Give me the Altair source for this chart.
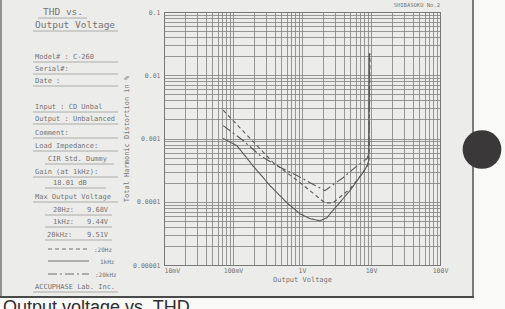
import altair as alt
import pandas as pd

# ---------------- data ----------------
series_names = ["20Hz", "1kHz", "20kHz"]

v_20hz = [0.072, 0.38, 0.94, 2.15, 2.81, 4.97, 7.66, 9.3, 9.68]
thd_20hz = [0.0028, 0.00042, 0.0002, 0.000096, 0.000096, 0.00016, 0.00029, 0.0004, 0.022]

v_1khz = [0.072, 0.114, 0.195, 0.344, 0.607, 0.936, 1.31, 1.82, 2.30, 3.01, 4.97, 7.66, 8.75, 9.3, 9.44]
thd_1khz = [0.001, 0.00077, 0.00037, 0.00018, 0.000096, 0.0000645, 0.000054, 0.00005,
            0.000056, 0.00008, 0.00015, 0.00029, 0.00037, 0.00045, 0.022]

v_20khz = [0.072, 0.14, 0.246, 0.435, 0.847, 1.31, 2.15, 3.93, 6.27, 8.75, 9.4, 9.51]
thd_20khz = [0.0016, 0.00093, 0.00054, 0.00037, 0.00026, 0.0002, 0.00015, 0.00024,
             0.00037, 0.00048, 0.0006, 0.022]

x_decades = [0.01, 0.1, 1, 10, 100]
x_labels = ["10mV", "100mV", "1V", "10V", "100V"]
y_decades = [0.1, 0.01, 0.001, 0.0001, 0.00001]
y_labels = ["0.1", "0.01", "0.001", "0.0001", "0.00001"]

panel_title = ["THD vs.", "Output Voltage"]
panel_fields = ["Model# : C-260", "Serial#:", "Date    :", "Input  : CD Unbal",
                "Output : Unbalanced", "Comment:", "Load Impedance:", "CIR Std. Dummy",
                "Gain (at 1kHz):", "18.01  dB", "Max Output Voltage"]
max_freqs = ["20Hz:", "1kHz:", "20kHz:"]
max_volts = ["9.68V", "9.44V", "9.51V"]
legend_labels = [":20Hz", "1kHz", ":20kHz"]
maker = "ACCUPHASE Lab. Inc."
sheet_id = "SHIBASOKU No.2"
x_title = "Output Voltage"
y_title = "Total Harmonic Distortion in %"
caption = "Output voltage vs. THD"

rows = []
for name, vs, ts in zip(series_names, [v_20hz, v_1khz, v_20khz], [thd_20hz, thd_1khz, thd_20khz]):
    for i, (v, t) in enumerate(zip(vs, ts)):
        rows.append({"series": name, "v": v, "thd": t, "order": i})
df = pd.DataFrame(rows)

# ---------------- layout ----------------
W, H = 276, 253
L, T = 164, 12
MONO = "DejaVu Sans Mono"
INK = "#747474"
CURVE = "#5a5a5a"
DASHES = [[4, 3], [1, 0], [9, 3, 2, 3]]

x_grid = [m * 10.0 ** e for e in range(-2, 2) for m in range(1, 10)] + [100.0]
y_grid = [m * 10.0 ** e for e in range(-5, -1) for m in range(1, 10)] + [0.1]


def label_expr(vals, labs):
    s = "''"
    for v, l in zip(vals, labs):
        s = f"abs(datum.value/{v}-1)<1e-6 ? '{l}' : ({s})"
    return s


def txt(s, x, y, size=7, align="left", color=INK, font=MONO, baseline="middle"):
    return alt.Chart(pd.DataFrame({"t": [s]})).mark_text(
        align=align, baseline=baseline, fontSize=size, font=font, color=color
    ).encode(x=alt.value(x - L), y=alt.value(y - T), text="t:N")


def hline(x1, x2, y, color="#9c9c9c", width=0.8, dash=None):
    kw = {"color": color, "strokeWidth": width}
    if dash is not None:
        kw["strokeDash"] = dash
    return alt.Chart(pd.DataFrame({"a": [0]})).mark_rule(**kw).encode(
        x=alt.value(x1 - L), x2=alt.value(x2 - L), y=alt.value(y - T))


def vline(x, y1, y2, color="#555555", width=1.5):
    return alt.Chart(pd.DataFrame({"a": [0]})).mark_rule(color=color, strokeWidth=width).encode(
        x=alt.value(x - L), y=alt.value(y1 - T), y2=alt.value(y2 - T))


def rect(x1, x2, y1, y2, color):
    return alt.Chart(pd.DataFrame({"a": [0]})).mark_rect(color=color).encode(
        x=alt.value(x1 - L), x2=alt.value(x2 - L), y=alt.value(y1 - T), y2=alt.value(y2 - T))


curves = alt.Chart(df).mark_line(strokeWidth=1.1, color=CURVE, clip=True).encode(
    x=alt.X("v:Q",
            scale=alt.Scale(type="log", domain=[0.01, 100], nice=False),
            axis=alt.Axis(values=x_grid, labelExpr=label_expr(x_decades, x_labels),
                          labelAlign={"condition": {"test": "datum.value < 0.011", "value": "left"},
                                      "value": "center"},
                          labelFlush=False, labelOverlap=False, labelBound=False,
                          labelPadding=2, labelFontSize=6.5, ticks=False, domain=False,
                          title=x_title, titleFontSize=7, titleX=W / 2, titleY=14,
                          titleAlign="center", titleBaseline="middle")),
    y=alt.Y("thd:Q",
            scale=alt.Scale(type="log", domain=[0.00001, 0.1], nice=False),
            axis=alt.Axis(values=y_grid, labelExpr=label_expr(y_decades, y_labels),
                          labelOverlap=False, labelBound=False, labelPadding=4,
                          labelFontSize=6.5, ticks=False, domain=False,
                          title=y_title, titleFontSize=7, titleX=-38, titleY=H / 2,
                          titleAngle=270, titleAlign="center", titleBaseline="middle")),
    strokeDash=alt.StrokeDash("series:N", scale=alt.Scale(domain=series_names, range=DASHES), legend=None),
    detail="series:N",
    order="order:Q",
)

layers = []
# outside-of-card regions and border
layers.append(rect(474, 505, 0, 309, "#f9f9f8"))
layers.append(rect(0, 505, 298, 309, "#f9f9f8"))
layers.append(vline(473, -2, 297.5))
layers.append(vline(1, -2, 297.5, width=1.2))
layers.append(hline(0, 474, 297, color="#4a4a4a", width=2))

# left information panel
layers.append(txt(panel_title[0], 43, 12, size=9.5))
layers.append(hline(38, 87, 18))
layers.append(txt(panel_title[1], 35, 25, size=9.5))
layers.append(hline(33, 118, 31))

field_pos = [(35, 57), (35, 69), (35, 81), (35, 107), (35, 119), (35, 133), (35, 146),
             (48, 159), (35, 172), (53, 183), (35, 197)]
for s, (x, y) in zip(panel_fields, field_pos):
    layers.append(txt(s, x, y))
    if s.startswith("18.01"):
        layers.append(hline(45, 106, y + 5))
    elif s.startswith("CIR"):
        layers.append(hline(45, 114, y + 5))
    else:
        layers.append(hline(33, 118, y + 5))

for f, v, (xf, y) in zip(max_freqs, max_volts, [(53, 210), (53, 222), (47, 235)]):
    layers.append(txt(f, xf, y))
    layers.append(txt(v, 87, y))
    layers.append(hline(45, 112, y + 5))

for lab, dash, (y, xl) in zip(legend_labels, DASHES, [(249, 94), (261, 100), (274, 95)]):
    layers.append(hline(48, 89, y, color="#6e6e6e", width=1, dash=dash))
    layers.append(txt(lab, xl, y + 1, size=6))

layers.append(txt(maker, 35, 287))
layers.append(hline(33, 118, 292))

# plot sheet id
layers.append(txt(sheet_id, 440, 5, size=5.5, align="right"))

# curves
layers.append(curves)

# black dot punched at right
layers.append(alt.Chart(pd.DataFrame({"a": [0]})).mark_circle(size=1500, color="#3a3838", opacity=1).encode(
    x=alt.value(482 - L), y=alt.value(149.5 - T)))

# caption under the card (cut by the bottom edge, as in the reference photo)
layers.append(txt(caption, 3, 313, size=18, color="#2e2e2e", font="Liberation Sans", baseline="alphabetic"))

chart = alt.layer(*layers).properties(
    width=W, height=H,
    padding={"left": L, "top": T, "right": 505 - L - W, "bottom": 309 - T - H},
    autosize=alt.AutoSizeParams(type="none"),
).configure(
    background="#ececea",
).configure_view(
    stroke="#505050", strokeWidth=1,
).configure_axis(
    gridColor="#828282", gridWidth=0.8, gridOpacity=1,
    labelFont=MONO, labelColor=INK, titleFont=MONO, titleColor=INK, titleFontWeight="normal",
)

chart.save("out.html", embed_options={"renderer": "svg", "actions": False})
